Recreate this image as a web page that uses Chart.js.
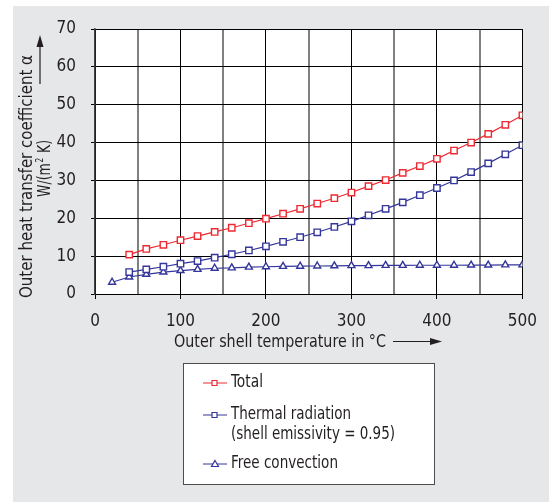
<!DOCTYPE html>
<html>
<head>
<meta charset="utf-8">
<script src="https://cdn.jsdelivr.net/npm/chart.js@4/dist/chart.umd.min.js"></script>
<style>
  html, body { margin: 0; padding: 0; background: #fff; }
  canvas { display: block; }
</style>
</head>
<body>
<canvas id="chart" width="549" height="502"></canvas>
<script>
// temperatures (°C) at which the curves were sampled
const tempConvection = [20, 40, 60, 80, 100, 120, 140, 160, 180, 200, 220, 240, 260, 280, 300, 320, 340, 360, 380, 400, 420, 440, 460, 480, 500];
const tempOther = [40, 60, 80, 100, 120, 140, 160, 180, 200, 220, 240, 260, 280, 300, 320, 340, 360, 380, 400, 420, 440, 460, 480, 500];

// heat transfer coefficient in W/(m² K)
const totalValues = [10.4, 11.9, 13.0, 14.2, 15.3, 16.4, 17.5, 18.7, 19.9, 21.2, 22.5, 23.9, 25.3, 26.8, 28.5, 30.1, 32.0, 33.8, 35.7, 37.9, 40.0, 42.3, 44.7, 47.2];
const radiationValues = [5.8, 6.5, 7.2, 8.0, 8.7, 9.6, 10.5, 11.5, 12.6, 13.8, 15.0, 16.3, 17.7, 19.2, 20.8, 22.5, 24.2, 26.1, 28.0, 30.0, 32.2, 34.5, 36.9, 39.3];
const convectionValues = [3.1, 4.5, 5.2, 5.8, 6.2, 6.5, 6.8, 6.9, 7.1, 7.2, 7.3, 7.35, 7.4, 7.45, 7.5, 7.5, 7.55, 7.55, 7.6, 7.6, 7.6, 7.65, 7.65, 7.7, 7.7];

const xTicks = [0, 100, 200, 300, 400, 500];
const yTicks = [0, 10, 20, 30, 40, 50, 60, 70];

const legendLabels = [['Total'], ['Thermal radiation', '(shell emissivity = 0.95)'], ['Free convection']];
// widths of the legend lines in the original artwork
const legendWidths = [[32], [120, 164], [107]];

const RED = '#ec2a31';
const BLUE = '#34369a';
const FONT = "'DejaVu Sans Condensed', 'Liberation Sans Narrow', sans-serif";

const toPoints = (xs, ys) => ys.map((y, i) => ({ x: xs[i], y: y }));

function arrow(ctx, x1, y1, x2, y2) {
  const ang = Math.atan2(y2 - y1, x2 - x1);
  const len = 12, half = 3.5;
  ctx.beginPath();
  ctx.moveTo(x1, y1);
  ctx.lineTo(x2 - len * Math.cos(ang), y2 - len * Math.sin(ang));
  ctx.stroke();
  ctx.beginPath();
  ctx.moveTo(x2, y2);
  ctx.lineTo(x2 - len * Math.cos(ang) - half * Math.sin(ang), y2 - len * Math.sin(ang) + half * Math.cos(ang));
  ctx.lineTo(x2 - len * Math.cos(ang) + half * Math.sin(ang), y2 - len * Math.sin(ang) - half * Math.cos(ang));
  ctx.closePath();
  ctx.fill();
}

// text squeezed to a given width (the original uses a condensed face)
function fitText(ctx, text, x, y, width) {
  const w = ctx.measureText(text).width;
  ctx.save();
  ctx.translate(x, y);
  ctx.scale(width / w, 1);
  ctx.fillText(text, 0, 0);
  ctx.restore();
}

const decor = {
  id: 'decor',
  beforeDraw(chart) {
    const ctx = chart.ctx;
    const a = chart.chartArea;
    ctx.save();
    ctx.fillStyle = '#e6e7e8';
    ctx.fillRect(13, 6, 549 - 13, 502 - 6);
    ctx.fillStyle = '#fff';
    ctx.fillRect(a.left, a.top, a.right - a.left, a.bottom - a.top);
    ctx.restore();
  },
  afterDraw(chart) {
    const ctx = chart.ctx;
    ctx.save();
    ctx.fillStyle = '#231f20';
    ctx.strokeStyle = '#231f20';
    ctx.lineWidth = 1.2;
    ctx.textBaseline = 'middle';

    // x axis title
    ctx.font = '17px ' + FONT;
    ctx.textAlign = 'left';
    fitText(ctx, 'Outer shell temperature in °C', 174, 343, 212);
    arrow(ctx, 393, 341.5, 442, 341.5);

    // y axis title
    ctx.save();
    ctx.translate(28, 176.5);
    ctx.rotate(-Math.PI / 2);
    ctx.textAlign = 'center';
    fitText(ctx, 'Outer heat transfer coefficient α', 0, 0, 243);
    ctx.restore();

    ctx.save();
    ctx.translate(46, 197);
    ctx.rotate(-Math.PI / 2);
    ctx.textAlign = 'left';
    const sx = 0.82;
    ctx.scale(sx, 1);
    ctx.fillText('W/(m', 0, 0);
    const w1 = ctx.measureText('W/(m').width;
    ctx.font = '10px ' + FONT;
    ctx.fillText('2', w1 + 1, -6);
    const w2 = ctx.measureText('2').width;
    ctx.font = '17px ' + FONT;
    ctx.fillText(' K)', w1 + w2 + 2, 0);
    ctx.restore();
    arrow(ctx, 40, 84, 40, 35);

    // legend box
    ctx.fillStyle = '#fff';
    ctx.fillRect(183, 363, 251, 121);
    ctx.strokeStyle = '#4d4d4d';
    ctx.lineWidth = 1;
    ctx.strokeRect(183.5, 363.5, 251, 121);

    const rows = [383, 415, 464];
    chart.data.datasets.forEach((ds, i) => {
      const y = rows[i];
      ctx.strokeStyle = ds.borderColor;
      ctx.lineWidth = 1;
      ctx.beginPath();
      ctx.moveTo(203, y);
      ctx.lineTo(227, y);
      ctx.stroke();
      ctx.fillStyle = '#fff';
      ctx.beginPath();
      if (ds.pointStyle === 'triangle') {
        ctx.moveTo(215, y - 3.5);
        ctx.lineTo(218.5, y + 2.5);
        ctx.lineTo(211.5, y + 2.5);
        ctx.closePath();
      } else {
        ctx.rect(212, y - 2.5, 5, 5);
      }
      ctx.fill();
      ctx.lineWidth = 1.2;
      ctx.stroke();
      ctx.fillStyle = '#231f20';
      ctx.font = '17px ' + FONT;
      ctx.textAlign = 'left';
      legendLabels[i].forEach((t, j) => fitText(ctx, t, 231, y + j * 20, legendWidths[i][j]));
    });
    ctx.restore();
  }
};

const commonDs = {
  borderWidth: 1.2,
  pointBackgroundColor: '#fff',
  pointBorderWidth: 1.4,
  tension: 0,
  fill: false
};

new Chart(document.getElementById('chart'), {
  type: 'line',
  data: {
    datasets: [
      Object.assign({}, commonDs, {
        label: 'Total',
        data: toPoints(tempOther, totalValues),
        borderColor: RED,
        pointBorderColor: RED,
        pointStyle: 'rect',
        pointRadius: 4.5
      }),
      Object.assign({}, commonDs, {
        label: 'Thermal radiation (shell emissivity = 0.95)',
        data: toPoints(tempOther, radiationValues),
        borderColor: BLUE,
        pointBorderColor: BLUE,
        pointStyle: 'rect',
        pointRadius: 4.5
      }),
      Object.assign({}, commonDs, {
        label: 'Free convection',
        data: toPoints(tempConvection, convectionValues),
        borderColor: BLUE,
        pointBorderColor: BLUE,
        pointStyle: 'triangle',
        pointRadius: 4
      })
    ]
  },
  options: {
    responsive: false,
    animation: false,
    devicePixelRatio: 1,
    layout: { padding: { left: 0, top: 29, right: 26, bottom: 0 } },
    plugins: {
      legend: { display: false },
      tooltip: { enabled: false }
    },
    scales: {
      x: {
        type: 'linear',
        min: 0,
        max: 500,
        afterFit(scale) { scale.height = 208; },
        afterBuildTicks(scale) {
          const t = [];
          for (let v = 0; v <= 500; v += 50) t.push({ value: v });
          scale.ticks = t;
        },
        ticks: {
          autoSkip: false,
          maxRotation: 0,
          padding: 12,
          color: '#231f20',
          font: { family: FONT, size: 17 },
          callback: v => (xTicks.includes(v) ? String(v) : '')
        },
        grid: {
          color: c => (c.tick && c.tick.value % 100 === 0 ? '#000' : '#808080'),
          lineWidth: c => (c.tick && c.tick.value % 100 === 0 ? 1 : 2),
          tickColor: c => (c.tick && c.tick.value % 100 === 0 ? '#000' : 'rgba(0,0,0,0)'),
          tickLength: 5
        },
        border: { color: '#000', width: 1 }
      },
      y: {
        min: 0,
        max: 70,
        afterFit(scale) { scale.width = 95; },
        afterBuildTicks(scale) { scale.ticks = yTicks.map(v => ({ value: v })); },
        ticks: {
          padding: 15,
          color: '#231f20',
          font: { family: FONT, size: 17 }
        },
        grid: { color: '#000', lineWidth: 1, tickLength: 4 },
        border: { color: '#444', width: 1.5 }
      }
    }
  },
  plugins: [decor]
});
</script>
</body>
</html>
